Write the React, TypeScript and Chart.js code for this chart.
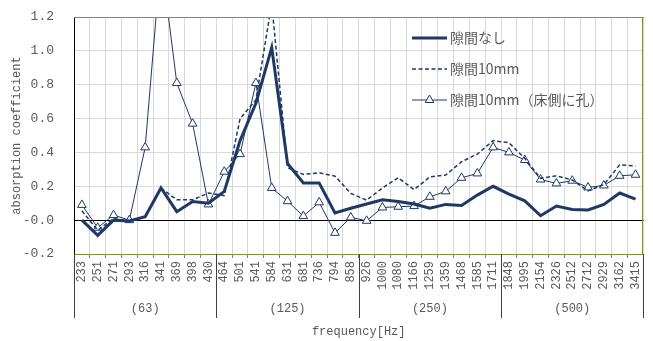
import { useEffect, useRef } from 'react';
import { Chart, registerables } from 'chart.js';

Chart.register(...registerables);

const categories = ['233', '251', '271', '293', '316', '341', '369', '398', '430', '464', '501', '541', '584', '631', '681', '736', '794', '858', '926', '1000', '1080', '1166', '1259', '1359', '1468', '1585', '1711', '1848', '1995', '2154', '2326', '2512', '2712', '2929', '3162', '3415'];
const groupLabels = ['(63)', '(125)', '(250)', '(500)'];
const groupSizes = [9, 9, 9, 9];
const seriesNames = ['隙間なし', '隙間10mm', '隙間10mm（床側に孔）'];
const gapNone = [0.0, -0.09, 0.0, -0.005, 0.02, 0.19, 0.05, 0.11, 0.10, 0.17, 0.47, 0.69, 1.02, 0.335, 0.22, 0.22, 0.043, 0.07, 0.095, 0.12, 0.11, 0.095, 0.07, 0.093, 0.087, 0.148, 0.20, 0.154, 0.114, 0.026, 0.083, 0.063, 0.06, 0.093, 0.16, 0.124];
const gap10 = [0.055, -0.06, 0.01, -0.01, 0.02, 0.19, 0.12, 0.12, 0.16, 0.145, 0.60, 0.71, 1.28, 0.31, 0.27, 0.28, 0.26, 0.158, 0.118, 0.19, 0.25, 0.18, 0.256, 0.266, 0.345, 0.39, 0.47, 0.457, 0.365, 0.247, 0.262, 0.237, 0.173, 0.21, 0.327, 0.32];
const gap10Hole = [0.09, -0.045, 0.03, 0.0, 0.43, 1.55, 0.81, 0.57, 0.093, 0.286, 0.39, 0.81, 0.19, 0.112, 0.024, 0.105, -0.075, 0.016, -0.004, 0.075, 0.079, 0.083, 0.138, 0.17, 0.25, 0.276, 0.43, 0.40, 0.355, 0.24, 0.217, 0.233, 0.193, 0.205, 0.262, 0.268];
const yMin = -0.2;
const yMax = 1.2;
const yStep = 0.2;

const NAVY = '#1F3864';
const TEXT = '#595959';
const GREEN = '#77933C';
const GRID = '#D9D9D9';
const MONO = '"Liberation Mono", "DejaVu Sans Mono", monospace';
const JP = '"Noto Sans CJK JP", sans-serif';

function triangle(ctx: CanvasRenderingContext2D, x: number, y: number, r: number) {
  ctx.beginPath();
  for (let k = 0; k < 3; k++) {
    const a = (k * 2 * Math.PI) / 3;
    const px = x + Math.sin(a) * r;
    const py = y - Math.cos(a) * r;
    if (k === 0) ctx.moveTo(px, py);
    else ctx.lineTo(px, py);
  }
  ctx.closePath();
  ctx.fillStyle = '#fff';
  ctx.fill();
  ctx.stroke();
}

const framePlugin = {
  id: 'frame',
  afterDraw(chart: any) {
    const { ctx, chartArea } = chart;
    const { left, right, top, bottom } = chartArea;
    ctx.save();
    ctx.strokeStyle = GREEN;
    ctx.lineWidth = 1;
    ctx.beginPath();
    ctx.moveTo(left, top + 0.5);
    ctx.lineTo(right, top + 0.5);
    ctx.moveTo(Math.round(right) - 0.5, top);
    ctx.lineTo(Math.round(right) - 0.5, bottom);
    ctx.stroke();

    const xs = chart.scales.x;
    const half = (xs.getPixelForValue(1) - xs.getPixelForValue(0)) / 2;
    const edges: number[] = [];
    let start = 0;
    ctx.fillStyle = TEXT;
    ctx.font = `12px ${MONO}`;
    ctx.textAlign = 'center';
    ctx.textBaseline = 'middle';
    groupSizes.forEach((n, i) => {
      const a = xs.getPixelForValue(start) - half;
      const b = xs.getPixelForValue(start + n - 1) + half;
      edges.push(a);
      if (i === groupSizes.length - 1) edges.push(b);
      ctx.fillText(groupLabels[i], (a + b) / 2, bottom + 55);
      start += n;
    });
    ctx.strokeStyle = '#404040';
    ctx.beginPath();
    edges.forEach((e) => {
      const px = Math.round(e) + 0.5;
      ctx.moveTo(px, bottom);
      ctx.lineTo(px, bottom + 64);
    });
    ctx.stroke();

    const lx = 412;
    const len = 35;
    const tx = 450;
    const ys = [top + 21, top + 52, top + 83];
    ctx.textAlign = 'left';
    ctx.textBaseline = 'middle';
    ctx.font = `14px ${JP}`;
    ctx.strokeStyle = NAVY;
    ctx.lineWidth = 3;
    ctx.beginPath();
    ctx.moveTo(lx, ys[0]);
    ctx.lineTo(lx + len, ys[0]);
    ctx.stroke();
    ctx.lineWidth = 1.5;
    ctx.setLineDash([4, 2.5]);
    ctx.beginPath();
    ctx.moveTo(lx, ys[1]);
    ctx.lineTo(lx + len, ys[1]);
    ctx.stroke();
    ctx.setLineDash([]);
    ctx.lineWidth = 1;
    ctx.beginPath();
    ctx.moveTo(lx, ys[2]);
    ctx.lineTo(lx + len, ys[2]);
    ctx.stroke();
    triangle(ctx, lx + len / 2, ys[2], 5);
    ctx.fillStyle = TEXT;
    seriesNames.forEach((name, i) => ctx.fillText(name, tx, ys[i]));
    ctx.restore();
  },
};

export default function App() {
  const ref = useRef<HTMLCanvasElement | null>(null);
  useEffect(() => {
    if (!ref.current) return;
    const near = (a: number, b: number) => Math.abs(a - b) < 1e-6;
    const chart = new Chart(ref.current, {
      type: 'line',
      data: {
        labels: categories,
        datasets: [
          {
            label: seriesNames[0],
            data: gapNone,
            borderColor: NAVY,
            borderWidth: 3,
            pointRadius: 0,
            tension: 0,
          },
          {
            label: seriesNames[1],
            data: gap10,
            borderColor: NAVY,
            borderWidth: 1.5,
            borderDash: [4, 2.5],
            pointRadius: 0,
            tension: 0,
          },
          {
            label: seriesNames[2],
            data: gap10Hole,
            borderColor: NAVY,
            borderWidth: 1,
            pointStyle: 'triangle',
            pointRadius: 5,
            pointBorderWidth: 1,
            pointBorderColor: NAVY,
            pointBackgroundColor: '#ffffff',
            tension: 0,
          },
        ],
      },
      options: {
        animation: false,
        responsive: false,
        devicePixelRatio: 1,
        layout: { padding: { left: 0, right: 7, top: 17, bottom: 0 } },
        plugins: {
          legend: { display: false },
          tooltip: { enabled: false },
        },
        scales: {
          x: {
            type: 'category',
            offset: true,
            afterFit: (s: any) => {
              s.height = 87;
            },
            grid: {
              color: GRID,
              tickColor: '#808080',
              tickLength: 4,
              offset: true,
            },
            border: { color: GREEN, width: 1 },
            ticks: {
              autoSkip: false,
              minRotation: 90,
              maxRotation: 90,
              padding: 3,
              color: TEXT,
              font: { family: MONO, size: 12 },
            },
            title: {
              display: true,
              text: 'frequency[Hz]',
              color: TEXT,
              font: { family: MONO, size: 12 },
              padding: { top: 0, bottom: 2 },
            },
          },
          y: {
            min: yMin,
            max: yMax,
            afterFit: (s: any) => {
              s.width = 74;
            },
            grid: {
              drawTicks: true,
              tickLength: 20,
              tickColor: 'rgba(0,0,0,0)',
              color: (c: any) => (near(c.tick.value, 0) ? '#000000' : near(c.tick.value, yMax) ? GREEN : GRID),
            },
            border: { color: '#000000', width: 1 },
            ticks: {
              stepSize: yStep,
              padding: 0,
              color: TEXT,
              font: { family: MONO, size: 13 },
              callback: (v: any) => Number(v).toFixed(1),
            },
            title: {
              display: true,
              text: 'absorption coefficient',
              color: TEXT,
              font: { family: MONO, size: 12 },
              padding: { top: 10, bottom: 0 },
            },
          },
        },
      },
      plugins: [framePlugin],
    });
    return () => chart.destroy();
  }, []);
  return (
    <div style={{ position: 'absolute', left: 0, top: 0, width: 653, height: 341 }}>
      <canvas ref={ref} width={653} height={341} />
    </div>
  );
}
